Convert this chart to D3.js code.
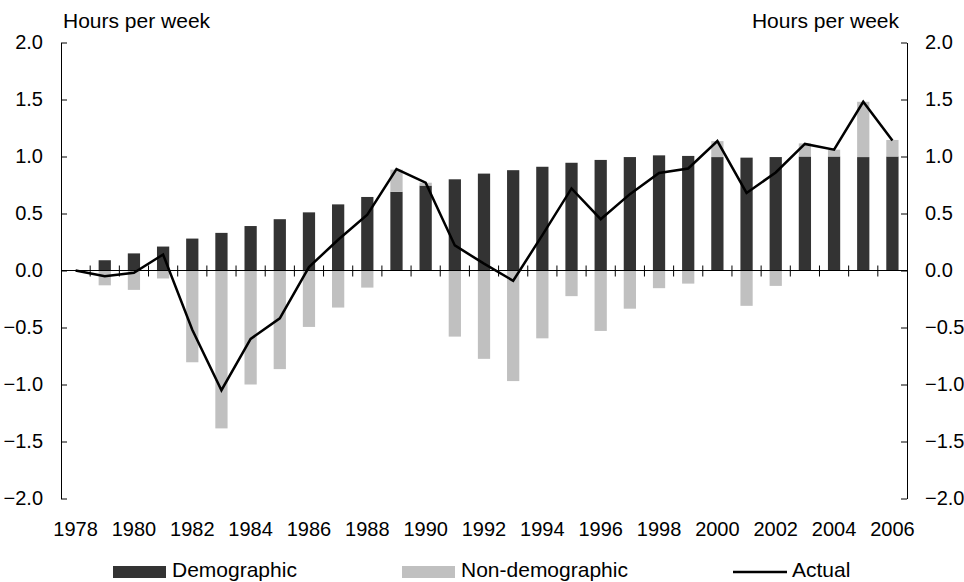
<!DOCTYPE html>
<html>
<head>
<meta charset="utf-8">
<script src="https://cdn.jsdelivr.net/npm/d3@7"></script>
<style>
  html, body { margin: 0; padding: 0; background: #fff; }
  svg text { font-family: "Liberation Sans", Arial, sans-serif; fill: #000; }
</style>
</head>
<body>
<svg id="chart" width="964" height="582"></svg>
<script>
const years = d3.range(1978, 2007);
const demographic = [0, 0.09, 0.15, 0.21, 0.28, 0.33, 0.39, 0.45, 0.51, 0.58, 0.645, 0.69, 0.745, 0.80, 0.85, 0.88, 0.91, 0.945, 0.97, 0.995, 1.01, 1.005, 0.995, 0.99, 0.995, 1.0, 1.0, 0.995, 1.0];
const nonDemographic = [0, -0.13, -0.17, -0.07, -0.805, -1.385, -1.0, -0.865, -0.495, -0.325, -0.15, 0.195, 0.025, -0.58, -0.775, -0.97, -0.595, -0.225, -0.53, -0.335, -0.155, -0.115, 0.14, -0.31, -0.135, 0.115, 0.06, 0.485, 0.145];
const actual = [0, -0.05, -0.02, 0.14, -0.52, -1.05, -0.60, -0.42, 0.03, 0.27, 0.49, 0.89, 0.77, 0.22, 0.06, -0.09, 0.31, 0.72, 0.45, 0.67, 0.855, 0.895, 1.135, 0.68, 0.86, 1.11, 1.06, 1.48, 1.14];
const yTicks = [-2.0, -1.5, -1.0, -0.5, 0.0, 0.5, 1.0, 1.5, 2.0];
const xLabelYears = d3.range(1978, 2007, 2);
const axisTitle = "Hours per week";
const seriesNames = ["Demographic", "Non-demographic", "Actual"];

const colDark = "#333333", colLight = "#c0c0c0";
const pLeft = 61, pRight = 907, pTop = 42.5, pBottom = 498.5;
const fs = 20, fsT = 21;

const svg = d3.select("#chart");
const x = d3.scaleBand().domain(years).range([pLeft, pRight]).paddingInner(0.58).paddingOuter(0.29);
const y = d3.scaleLinear().domain([-2, 2]).range([pBottom, pTop]);

// bars
const g = svg.append("g");
years.forEach((yr, i) => {
  const d = demographic[i], n = nonDemographic[i];
  if (d !== 0) {
    g.append("rect").attr("x", x(yr)).attr("width", x.bandwidth())
      .attr("y", y(Math.max(d, 0))).attr("height", Math.abs(y(d) - y(0))).attr("fill", colDark);
  }
  if (n > 0) {
    g.append("rect").attr("x", x(yr)).attr("width", x.bandwidth())
      .attr("y", y(d + n)).attr("height", y(d) - y(d + n)).attr("fill", colLight);
  } else if (n < 0) {
    g.append("rect").attr("x", x(yr)).attr("width", x.bandwidth())
      .attr("y", y(0)).attr("height", y(n) - y(0)).attr("fill", colLight);
  }
});

// zero line with category ticks
svg.append("line").attr("x1", pLeft).attr("x2", pRight).attr("y1", y(0)).attr("y2", y(0))
  .attr("stroke", "#000").attr("stroke-width", 1);
years.slice(0, -1).forEach(yr => {
  const bx = x(yr) + x.bandwidth() / 2 + x.step() / 2;
  svg.append("line").attr("x1", bx).attr("x2", bx).attr("y1", y(0) - 5).attr("y2", y(0) + 6)
    .attr("stroke", "#000").attr("stroke-width", 1);
});

// y axes
const axL = d3.axisLeft(y).tickValues(yTicks).tickFormat(d3.format(".1f")).tickSizeInner(-6).tickSizeOuter(0).tickPadding(18);
const axR = d3.axisRight(y).tickValues(yTicks).tickFormat(d3.format(".1f")).tickSizeInner(-6).tickSizeOuter(0).tickPadding(18);
const gl = svg.append("g").attr("transform", `translate(${pLeft},0)`).call(axL);
const gr = svg.append("g").attr("transform", `translate(${pRight},0)`).call(axR);
[gl, gr].forEach(a => {
  a.select(".domain").attr("stroke", "#000");
  a.selectAll(".tick line").attr("stroke", "#000");
  a.selectAll(".tick text").attr("font-size", fs).attr("font-family", "Liberation Sans, Arial, sans-serif").attr("fill", "#000");
});

// x labels
svg.append("g").selectAll("text").data(xLabelYears).join("text")
  .attr("x", d => x(d) + x.bandwidth() / 2).attr("y", 536)
  .attr("text-anchor", "middle").attr("font-size", fs).text(d => d);

// axis titles
svg.append("text").attr("x", 63).attr("y", 28).attr("font-size", fsT).text(axisTitle);
svg.append("text").attr("x", 899).attr("y", 28).attr("text-anchor", "end").attr("font-size", fsT).text(axisTitle);

// actual line
const line = d3.line().x((d, i) => x(years[i]) + x.bandwidth() / 2).y(d => y(d));
svg.append("path").datum(actual).attr("d", line).attr("fill", "none")
  .attr("stroke", "#000").attr("stroke-width", 2.5).attr("stroke-linejoin", "miter");

// legend
const lg = svg.append("g");
lg.append("rect").attr("x", 113).attr("y", 566).attr("width", 53).attr("height", 12).attr("fill", colDark);
lg.append("text").attr("x", 172).attr("y", 577).attr("font-size", fsT).text(seriesNames[0]);
lg.append("rect").attr("x", 402).attr("y", 566).attr("width", 53).attr("height", 12).attr("fill", colLight);
lg.append("text").attr("x", 461).attr("y", 577).attr("font-size", fsT).text(seriesNames[1]);
lg.append("line").attr("x1", 733).attr("x2", 787).attr("y1", 572).attr("y2", 572).attr("stroke", "#000").attr("stroke-width", 2.5);
lg.append("text").attr("x", 792).attr("y", 577).attr("font-size", fsT).text(seriesNames[2]);
</script>
</body>
</html>
